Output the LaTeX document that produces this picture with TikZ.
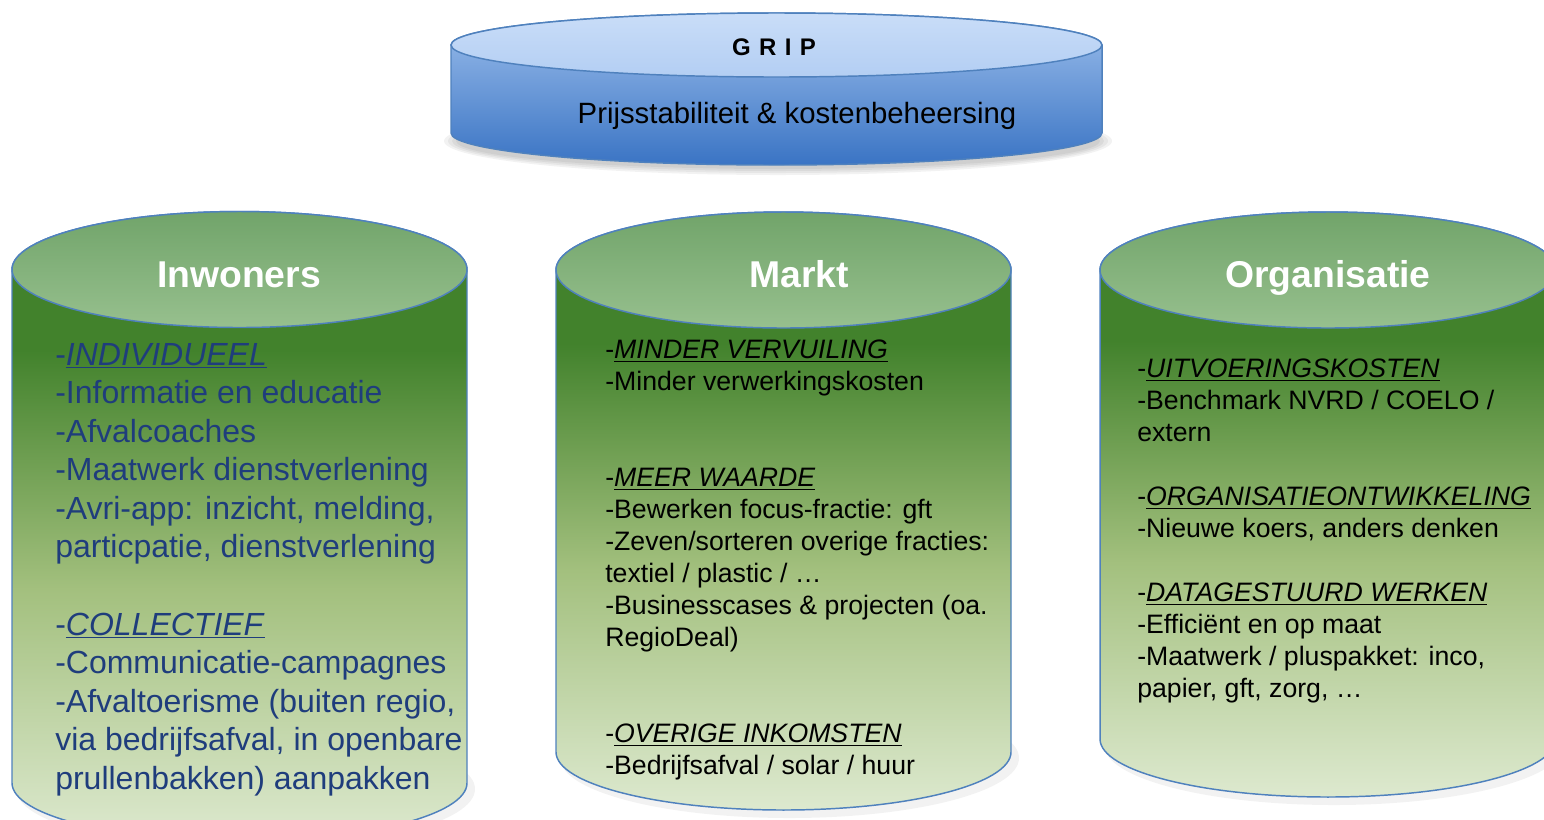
\documentclass[tikz,border=0pt]{standalone}
\usepackage{fontspec}
\setmainfont{Liberation Sans}
\usepackage{xcolor}
\usepackage{tikz}
\usetikzlibrary{calc}

\definecolor{randblauw}{HTML}{4F81BD}
\definecolor{blauwdeksel1}{HTML}{C9DDF8}
\definecolor{blauwdeksel2}{HTML}{B3CEF3}
\definecolor{blauwboven}{HTML}{9DBFEC}
\definecolor{blauwonder}{HTML}{3A74C4}
\definecolor{groendeksel1}{HTML}{71A46A}
\definecolor{groendeksel2}{HTML}{97C08E}
\definecolor{groenboven}{HTML}{42822C}
\definecolor{groenmidden}{HTML}{A3C07E}
\definecolor{groenonder}{HTML}{DDE9CF}
\definecolor{tekstblauw}{HTML}{1F3D7C}

\pgfdeclareverticalshading{pijler}{100bp}{color(0bp)=(groenonder); color(25bp)=(groenonder);
  color(45bp)=(groenmidden); color(64bp)=(groenboven); color(100bp)=(groenboven)}

\begin{document}
\begin{tikzpicture}[x=0.75pt,y=-0.75pt,
    rand/.style={draw=randblauw,line width=1.1pt},
    titel/.style={anchor=base,font=\fontsize{28}{34}\selectfont\bfseries,text=white},
    tekst/.style={anchor=north west,align=left,inner sep=0pt,font=\fontsize{20}{24}\selectfont},
    kop/.style={font=\fontsize{18}{22}\selectfont\bfseries}]
\useasboundingbox (0,0) rectangle (1544,819);
%% schaduw onder de GRIP schijf
\foreach \s in {0,4,8,12}
    \fill[black,opacity=0.05] (778,141) ellipse ({322+\s} and {28+\s/2});
%% GRIP schijf
\shade[rand,top color=blauwboven,bottom color=blauwonder]
    (451,45) -- (451,133) arc (180:0:325.5 and 32) -- (1102,45) arc (0:-180:325.5 and 32) -- cycle;
\shade[rand,top color=blauwdeksel1,bottom color=blauwdeksel2] (776.5,45) ellipse (325.5 and 32);
\node[kop] (grip) at (774,47) {G\hspace{0.35em}R\hspace{0.35em}I\hspace{0.35em}P};
\node[font=\fontsize{22}{26}\selectfont] (prijs) at (797,116) {Prijsstabiliteit \& kostenbeheersing};
%% drie pijlers
\foreach \cx/\rx/\top/\bot in {239.5/227.5/269.5/783, 783.5/227.5/270/752, 1328/228/270/739}{
    \fill[black,opacity=0.05] (\cx+6,\bot+6) ellipse [x radius=\rx+2, y radius=60];
    \shade[rand,shading=pijler]
        (\cx-\rx,\top) -- (\cx-\rx,\bot) arc [start angle=180, end angle=0, x radius=\rx, y radius=58]
        -- (\cx+\rx,\top) arc [start angle=0, end angle=-180, x radius=\rx, y radius=58] -- cycle;
    \shade[rand,top color=groendeksel1,bottom color=groendeksel2] (\cx,\top) ellipse [x radius=\rx, y radius=58];
}
\node[titel] (inwoners) at (239,287) {Inwoners};
\node[titel] (markt) at (799,287) {Markt};
\node[titel] (organisatie) at (1328,287) {Organisatie};
%% teksten
\node[tekst,text=tekstblauw,font=\fontsize{24}{28.9}\selectfont] (tinwoners) at (55,343) {%
-\underline{\textit{INDIVIDUEEL}}\\
-Informatie en educatie\\
-Afvalcoaches\\
-Maatwerk dienstverlening\\
-Avri-app: inzicht, melding,\\
particpatie, dienstverlening\\[28.9pt]
-\underline{\textit{COLLECTIEF}}\\
-Communicatie-campagnes\\
-Afvaltoerisme (buiten regio,\\
via bedrijfsafval, in openbare\\
prullenbakken) aanpakken};
\node[tekst] (tmarkt) at (605,340) {%
-\underline{\textit{MINDER VERVUILING}}\\
-Minder verwerkingskosten\\[48pt]
-\underline{\textit{MEER WAARDE}}\\
-Bewerken focus-fractie: gft\\
-Zeven/sorteren overige fracties:\\
textiel / plastic / …\\
-Businesscases \& projecten (oa.\\
RegioDeal)\\[48pt]
-\underline{\textit{OVERIGE INKOMSTEN}}\\
-Bedrijfsafval / solar / huur};
\node[tekst] (torganisatie) at (1137,359) {%
-\underline{\textit{UITVOERINGSKOSTEN}}\\
-Benchmark NVRD / COELO /\\
extern\\[24pt]
-\underline{\textit{ORGANISATIEONTWIKKELING}}\\
-Nieuwe koers, anders denken\\[24pt]
-\underline{\textit{DATAGESTUURD WERKEN}}\\
-Efficiënt en op maat\\
-Maatwerk / pluspakket: inco,\\
papier, gft, zorg, …};
\end{tikzpicture}
\end{document}
